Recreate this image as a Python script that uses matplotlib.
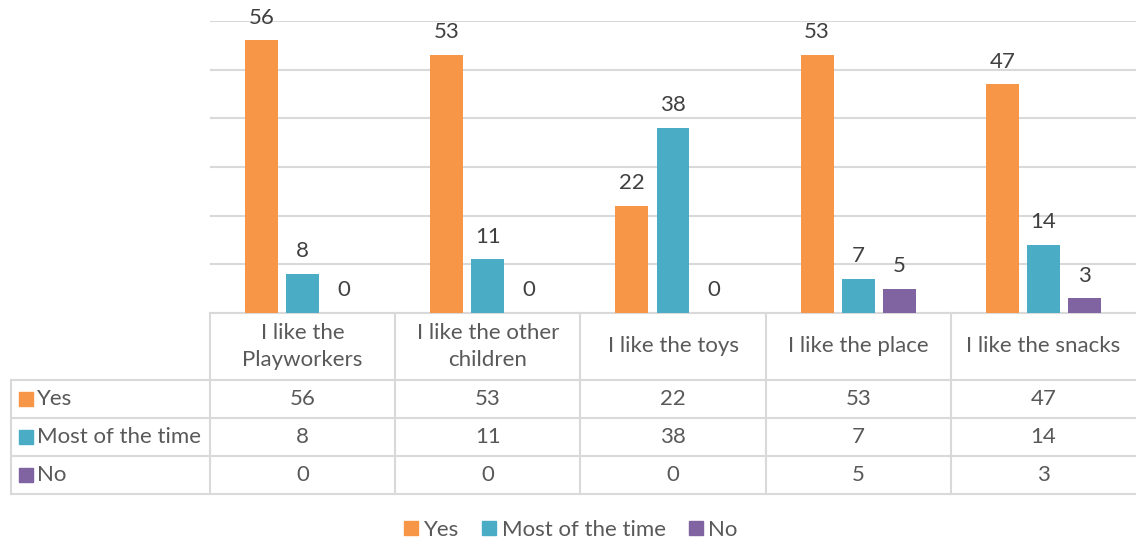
import numpy as np
import matplotlib.pyplot as plt
from matplotlib.transforms import blended_transform_factory

plt.rcParams['font.family'] = ['Lato', 'DejaVu Sans']

categories = ["I like the\nPlayworkers", "I like the other\nchildren", "I like the toys",
              "I like the place", "I like the snacks"]
series_names = ["Yes", "Most of the time", "No"]
yes = [56, 53, 22, 53, 47]
most = [8, 11, 38, 7, 14]
no = [0, 0, 0, 5, 3]

colors = ["#F79646", "#4BACC6", "#8064A2"]
grid_c = "#D9D9D9"
txt_c = "#595959"
lbl_c = "#404040"
fs = 16

W, H = 1136, 545
fig = plt.figure(figsize=(W / 100, H / 100), dpi=100)
# plot area in pixels: x 210..1136, y 21..313
ax = fig.add_axes([210 / W, 1 - 313 / H, (1136 - 210) / W, (313 - 21) / H])

x = np.arange(len(categories))
bw = 0.178
step = 0.222
for i, (vals, c) in enumerate(zip([yes, most, no], colors)):
    pos = x + (i - 1) * step
    ax.bar(pos, vals, width=bw, color=c, zorder=3)
    for px, v in zip(pos, vals):
        ax.text(px, v + 2.6, str(v), ha='center', va='bottom', fontsize=fs, color=lbl_c)

ax.set_xlim(-0.5, len(categories) - 0.5)
ax.set_ylim(0, 60)
ax.set_yticks(np.arange(0, 61, 10))
ax.yaxis.grid(True, color=grid_c, lw=1.5, zorder=0)
ax.tick_params(left=False, bottom=False, labelleft=False, labelbottom=False)
for s in ax.spines.values():
    s.set_visible(False)

# data table below the plot
ph = 313 - 21
def fy(py):
    return (313 - py) / ph

def fx(px):
    return (px - 210) / (1136 - 210)

tr = blended_transform_factory(ax.transData, ax.transAxes)
left_x = fx(11)
row_edges = [313, 380, 418, 456, 494]
lk = dict(color=grid_c, lw=1.5, clip_on=False)

ax.plot([0, 1], [0, 0], transform=ax.transAxes, **lk)
for py in row_edges[1:]:
    ax.plot([left_x, 1], [fy(py), fy(py)], transform=ax.transAxes, **lk)
for b in np.arange(len(categories)):
    ax.plot([b - 0.5, b - 0.5], [0, fy(494)], transform=tr, **lk)
ax.plot([left_x, left_x], [fy(380), fy(494)], transform=ax.transAxes, **lk)

for ci, cat in enumerate(categories):
    ax.text(ci, fy(346.5), cat, transform=tr, ha='center', va='center',
            fontsize=fs, color=txt_c, linespacing=1.4)

for ri, (name, vals, c) in enumerate(zip(series_names, [yes, most, no], colors)):
    yc = fy((row_edges[ri + 1] + row_edges[ri + 2]) / 2)
    ax.scatter([fx(26)], [yc], marker='s', s=110, color=c,
               transform=ax.transAxes, clip_on=False)
    ax.text(fx(37), yc, name, transform=ax.transAxes, ha='left', va='center',
            fontsize=fs, color=txt_c)
    for ci, v in enumerate(vals):
        ax.text(ci, yc, str(v), transform=tr, ha='center', va='center',
                fontsize=fs, color=txt_c)

# legend
handles = [plt.Rectangle((0, 0), 1, 1, color=c) for c in colors]
fig.legend(handles, series_names, loc='center', bbox_to_anchor=(571 / W, 1 - 530 / H),
           ncol=3, frameon=False, fontsize=fs, handlelength=0.62, handleheight=0.62,
           handletextpad=0.25, columnspacing=1.05, labelcolor=txt_c)

plt.savefig('out.png', dpi=100)
